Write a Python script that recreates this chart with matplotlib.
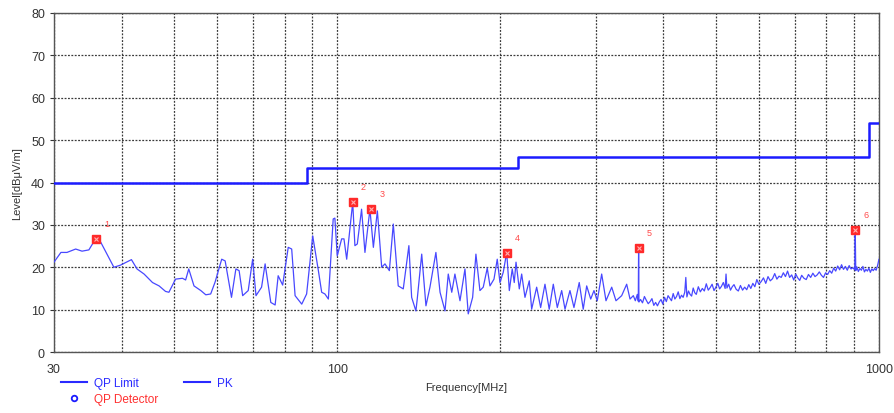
import matplotlib
matplotlib.use("Agg")
import matplotlib.pyplot as plt
from matplotlib.ticker import FixedLocator, NullFormatter, FixedFormatter
from matplotlib.lines import Line2D

plt.rcParams['font.family'] = ['Liberation Sans', 'DejaVu Sans']

# ---- data ----
limit_freq = [30, 88, 88, 216, 216, 960, 960, 1000]
limit_level = [40, 40, 43.5, 43.5, 46, 46, 54, 54]

pk_freq_low = [
    30.0, 30.9, 31.7, 32.9, 33.8, 34.8, 35.8, 36.6, 38.7, 39.8, 41.7, 42.7, 44.0, 45.6,
    46.9, 48.2, 48.9, 50.3, 51.8, 52.5, 53.2, 54.4, 56.0, 57.2, 58.4, 59.5, 61.2, 62.1,
    63.8, 65.0, 65.9, 66.9, 68.5, 69.8, 70.8, 72.5, 73.6, 75.4, 76.8, 77.8, 79.3, 81.2,
    82.4, 83.6, 86.0, 87.8, 90.1, 92.3, 93.6, 94.9, 96.3, 98.3, 99.0, 100.0, 101.9, 102.9,
    104.1, 106.8, 107.8, 108.9, 110.9, 112.5, 114.9, 116.6, 118.6, 120.8, 122.5, 124.8,
    126.9, 129.6, 132.4, 135.6, 137.2, 139.7, 140.5, 143.2, 145.8, 148.3, 152.1, 154.8,
    158.1, 160.3, 162.7, 164.9, 168.5, 172.1, 174.5, 177.8, 180.3, 183.4, 186.0, 189.2,
    191.4, 194.7, 197.4, 199.7, 202.5, 205.5, 207.8, 210.4, 212.2, 213.8, 216.8, 219.0,
    222.1, 226.2, 228.5, 233.4, 237.4, 241.8, 246.2, 250.5, 254.8, 259.6, 263.3, 268.9,
    273.5, 279.7, 284.5, 288.7, 293.7, 297.8, 302.0, 307.7, 313.4, 321.1, 327.0, 335.0,
    342.2, 347.1,
]
pk_level_low = [
    21.2, 23.5, 23.5, 24.3, 23.8, 24.1, 26.7, 25.9, 20.0, 20.5, 21.8, 19.6, 18.4, 16.4,
    15.6, 14.3, 14.1, 17.2, 17.4, 17.0, 19.6, 15.6, 14.5, 13.5, 13.7, 16.5, 21.9, 21.5,
    12.9, 19.6, 19.2, 13.3, 14.5, 21.9, 13.3, 15.3, 20.8, 11.7, 11.1, 18.0, 15.8, 24.7,
    24.3, 13.3, 11.3, 13.7, 27.4, 19.2, 14.1, 13.7, 12.5, 31.4, 31.6, 22.7, 26.7, 26.7,
    21.9, 35.3, 25.1, 25.5, 33.7, 23.5, 33.7, 24.7, 33.3, 20.0, 20.8, 19.2,
    30.2, 15.6, 14.9, 25.1, 12.9, 9.7, 12.5, 23.1, 10.9, 15.3, 23.5, 14.1,
    9.7, 18.4, 14.1, 18.4, 12.1, 19.6, 9.0, 12.9, 23.1, 14.5, 15.3, 19.8,
    15.6, 17.2, 21.9, 16.4, 18.8, 23.5, 14.5, 19.6, 16.4, 21.2, 14.9, 18.4,
    12.9, 16.8, 10.1, 15.3, 10.5, 16.0, 10.1, 16.0, 10.5, 14.5, 10.1, 14.5,
    10.5, 16.4, 10.1, 15.6, 12.5, 14.5, 12.1, 18.4, 12.1, 15.3, 12.1, 13.3,
    16.0, 12.5,
]

pk_freq_high = [
    352, 355, 358, 359.5, 360, 360.5, 363, 366, 369, 372, 375, 378, 381, 384, 387, 390,
    393, 396, 399, 402, 405, 408, 411, 414, 417, 420, 423, 426, 429, 432, 435, 438, 440,
    442, 445, 448, 451, 454, 457, 460, 464, 468, 472, 476, 480, 484, 488, 492, 496, 500,
    504, 508, 512, 516, 520, 522, 524, 528, 532, 536, 540, 545, 550, 555, 560, 565, 570,
    575, 580, 585, 590, 595, 600, 606, 612, 618, 624, 630, 636, 642, 648, 654, 660, 666,
    672, 678, 684, 690, 696, 702, 708, 714, 720, 727, 734, 741, 748, 755, 762, 769, 776,
    783, 790, 797, 804, 811, 818, 825, 832, 839, 846, 853, 860, 867, 874, 881, 888, 895,
    902, 904, 906, 910, 916, 922, 928, 934, 940, 946, 952, 958, 964, 970, 976, 982, 988,
    994, 1000,
]
pk_level_high = [
    13.3, 12.1, 13.6, 12.0, 24.5, 11.8, 12.4, 11.6, 13.1, 12.2, 11.4, 11.9, 12.6, 11.0, 11.7, 10.9,
    11.8, 12.4, 11.3, 12.9, 11.9, 13.3, 12.7, 12.1, 13.8, 12.5, 13.1, 14.2, 12.6, 13.4, 12.9, 14.1, 17.6,
    13.0, 14.4, 13.6, 13.2, 15.1, 14.0, 13.6, 15.4, 14.2, 15.0, 14.4, 16.1, 14.6, 15.2, 16.0, 14.5, 15.3,
    16.2, 14.9, 15.5, 16.4, 15.0, 18.4, 15.1, 16.0, 14.6, 15.4, 15.9, 14.8, 14.4, 15.7, 14.6, 15.3, 14.7,
    15.9, 15.0, 16.2, 15.4, 17.1, 16.0, 16.6, 17.5, 16.2, 17.8, 16.8, 17.3, 18.5, 17.2, 17.9, 17.6, 18.7,
    17.8, 19.1, 17.6, 18.2, 17.0, 18.4, 17.5, 16.9, 18.1, 17.4, 17.1, 18.3, 17.6, 18.6, 17.8, 18.2, 18.9,
    18.1, 17.6, 18.7, 18.3, 19.2, 18.6, 19.8, 19.1, 20.3, 19.4, 20.6, 19.5, 20.2, 19.3, 20.4, 19.6, 19.9,
    19.4, 28.8, 19.2, 20.1, 19.0, 19.7, 19.3, 20.2, 18.9, 19.5, 19.1, 19.8, 18.8, 19.6, 19.2, 19.7, 19.3,
    20.4, 21.9,
]

pk_freq = pk_freq_low + pk_freq_high
pk_level = pk_level_low + pk_level_high

qp_freq = [35.8, 106.8, 115.4, 205.5, 360.0, 904.0]
qp_level = [26.7, 35.4, 33.7, 23.4, 24.5, 28.8]
qp_labels = ['1', '2', '3', '4', '5', '6']

x_major = [30, 100, 1000]
x_minor = [40, 50, 60, 70, 80, 90, 200, 300, 400, 500, 600, 700, 800, 900]
y_ticks = list(range(0, 81, 10))

# ---- figure ----
fig = plt.figure(figsize=(8.95, 4.14), dpi=100)
ax = fig.add_axes([0.0603, 0.1473, 0.9218, 0.8189])

ax.plot(pk_freq, pk_level, color='#4848ff', lw=0.9, zorder=3)
ax.plot(limit_freq, limit_level, color='#1c1cff', lw=1.8, zorder=4)
ax.plot(qp_freq, qp_level, ls='none', marker='s', ms=6, mfc='#ff2a2a', mec='#ff2a2a', zorder=5)
ax.plot(qp_freq, qp_level, ls='none', marker='x', ms=3.5, mec='#ffb0b0', mew=0.8, zorder=6)
for f, l, t in zip(qp_freq, qp_level, qp_labels):
    ax.annotate(t, (f, l), xytext=(6, 8), textcoords='offset points',
                color='#ff4a4a', fontsize=6.5, ha='left', va='bottom')

ax.set_xscale('log')
ax.set_xlim(30, 1000)
ax.set_ylim(0, 80)
ax.xaxis.set_major_locator(FixedLocator(x_major))
ax.xaxis.set_major_formatter(FixedFormatter([str(v) for v in x_major]))
ax.xaxis.set_minor_locator(FixedLocator(x_minor))
ax.xaxis.set_minor_formatter(NullFormatter())
ax.set_yticks(y_ticks)

ax.grid(True, which='both', color='#3a3a3a', ls=(0, (1.5, 1.2)), lw=0.9, zorder=1)
ax.tick_params(axis='both', which='both', labelsize=9, colors='#333333', length=3, width=0.8)
ax.tick_params(axis='x', which='both', length=0, pad=8)
for s in ax.spines.values():
    s.set_color('#555555')
    s.set_linewidth(1.0)

ax.set_xlabel('Frequency[MHz]', fontsize=8, color='#333333', labelpad=5)
ax.set_ylabel('Level[dBμV/m]', fontsize=8, color='#333333', labelpad=6)

handles = [
    Line2D([], [], color='#2a2aff', lw=1.5),
    Line2D([], [], ls='none', marker='o', ms=4, mfc='none', mec='#1a1aff', mew=1.3),
    Line2D([], [], color='#2a2aff', lw=1.5),
]
labels = ['QP Limit', 'QP Detector', 'PK']
leg = fig.legend(handles, labels, loc='upper left', bbox_to_anchor=(0.068, 0.087),
                 ncol=2, frameon=False, fontsize=8.5, handlelength=2.2, handletextpad=0.6,
                 columnspacing=2.2, labelspacing=0.35, borderaxespad=0, borderpad=0)
for txt, c in zip(leg.get_texts(), ['#2a2aff', '#ff3030', '#2a2aff']):
    txt.set_color(c)

fig.savefig('out.png', dpi=100)
